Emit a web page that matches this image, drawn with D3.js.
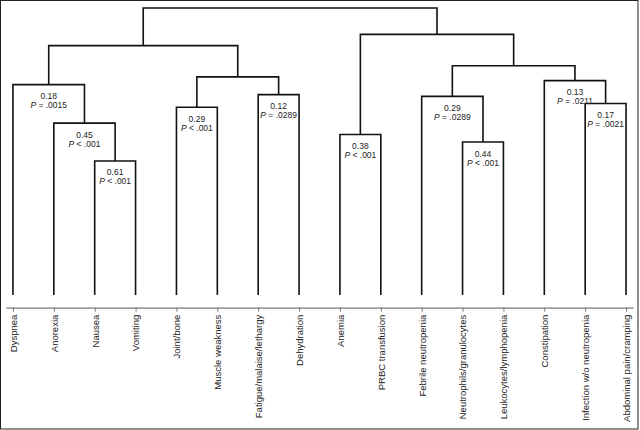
<!DOCTYPE html>
<html>
<head>
<meta charset="utf-8">
<script src="https://cdn.jsdelivr.net/npm/d3@7"></script>
<style>
  html, body { margin: 0; padding: 0; background: #fff; }
  svg { display: block; }
</style>
</head>
<body>
<svg id="chart" width="640" height="430"></svg>
<script>
// Leaves (left-to-right order)
const leaves = [
  "Dyspnea", "Anorexia", "Nausea", "Vomiting", "Joint/bone", "Muscle weakness",
  "Fatigue/malaise/lethargy", "Dehydration", "Anemia", "PRBC transfusion",
  "Febrile neutropenia", "Neutrophils/granulocytes", "Leukocytes/lymphopenia",
  "Constipation", "Infection w/o neutropenia", "Abdominal pain/cramping"
];
// Linkage: merge k creates node id leaves.length + k
const mergeLeft   = [2, 1, 0, 4, 6, 19, 18, 8, 11, 10, 14, 13, 25, 23, 22];
const mergeRight  = [3, 16, 17, 5, 7, 20, 21, 9, 12, 24, 15, 26, 27, 28, 29];
const mergeHeight = [0.467, 0.599, 0.733, 0.654, 0.698, 0.760, 0.869, 0.559, 0.533, 0.692, 0.667, 0.747, 0.799, 0.908, 1.000];
const mergeCorr   = ["0.61", "0.45", "0.18", "0.29", "0.12", null, null, "0.38", "0.44", "0.29", "0.17", "0.13", null, null, null];
const mergeP      = ["< .001", "< .001", "= .0015", "< .001", "= .0289", null, null, "< .001", "< .001", "= .0289", "= .0021", "= .0211", null, null, null];

const svg = d3.select("#chart");

const x = d3.scalePoint().domain(leaves).range([6, 633]).padding(0.17);
const y = d3.scaleLinear().domain([0, 1]).range([295, 8]);

// node positions
const nodeX = leaves.map(d => x(d));
const nodeH = leaves.map(() => 0);
mergeLeft.forEach((l, k) => {
  const r = mergeRight[k];
  nodeX.push((nodeX[l] + nodeX[r]) / 2);
  nodeH.push(mergeHeight[k]);
});

// border
svg.append("rect")
  .attr("x", 0.5).attr("y", 0.5).attr("width", 637.5).attr("height", 428.5)
  .attr("fill", "none").attr("stroke", "#222").attr("stroke-width", 1);

// axis
const axisY = 307.7;
const axis = d3.axisBottom(x).tickSize(4).tickSizeOuter(0).tickPadding(3);
const gAxis = svg.append("g").attr("transform", `translate(0,${axisY})`).call(axis);
gAxis.select(".domain").attr("stroke", "#777").attr("stroke-width", 1.2);
gAxis.selectAll(".tick line").attr("stroke", "#777").attr("stroke-width", 1);
gAxis.selectAll(".tick text")
  .attr("transform", "rotate(-90)")
  .attr("x", -7).attr("y", 0).attr("dy", "0.35em")
  .attr("text-anchor", "end")
  .attr("fill", "#222")
  .style("font-family", "'Liberation Sans', Arial, sans-serif")
  .style("font-size", "9.5px");

// dendrogram links
const g = svg.append("g");
mergeLeft.forEach((l, k) => {
  const r = mergeRight[k];
  const yy = y(mergeHeight[k]);
  const path = d3.path();
  path.moveTo(nodeX[l], y(nodeH[l]));
  path.lineTo(nodeX[l], yy);
  path.lineTo(nodeX[r], yy);
  path.lineTo(nodeX[r], y(nodeH[r]));
  g.append("path")
    .attr("d", path.toString())
    .attr("fill", "none")
    .attr("stroke", "#111")
    .attr("stroke-width", 1.6)
    .attr("stroke-linejoin", "miter");
});

// labels
const gl = svg.append("g")
  .style("font-family", "'Liberation Sans', Arial, sans-serif")
  .style("font-size", "8.5px")
  .attr("fill", "#222")
  .attr("text-anchor", "middle");
mergeLeft.forEach((l, k) => {
  if (!mergeCorr[k]) return;
  const cx = (nodeX[l] + nodeX[mergeRight[k]]) / 2;
  const yy = y(mergeHeight[k]);
  gl.append("text").attr("x", cx).attr("y", yy + 14.5).text(mergeCorr[k]);
  const t = gl.append("text").attr("x", cx).attr("y", yy + 23.5);
  t.append("tspan").style("font-style", "italic").text("P");
  t.append("tspan").text(" " + mergeP[k]);
});
</script>
</body>
</html>
